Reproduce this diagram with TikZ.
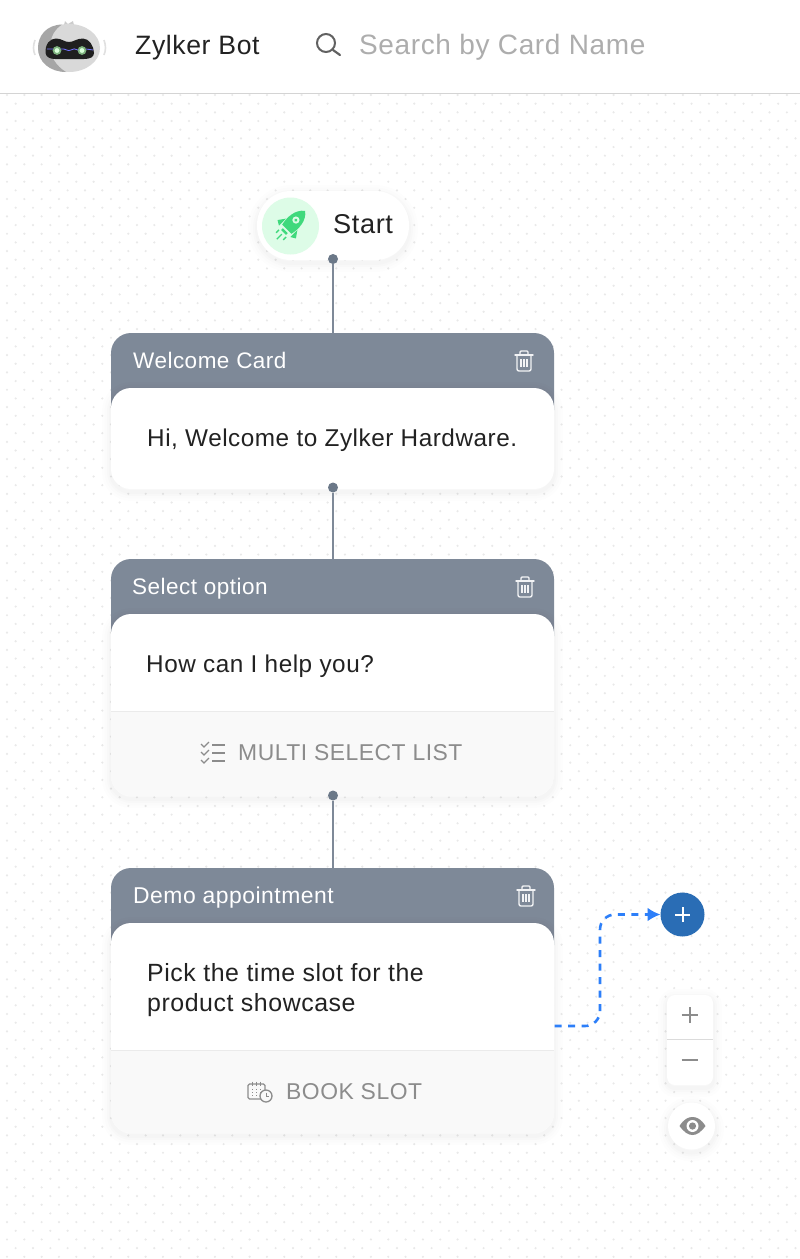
\documentclass[tikz,border=0pt]{standalone}
\usepackage{xcolor}
\usepackage{fontspec}
\setmainfont[LetterSpace=2.2]{Liberation Sans}
\usetikzlibrary{positioning,arrows.meta}

\definecolor{slate}{HTML}{7E8998}
\definecolor{slatedot}{HTML}{6B7888}
\definecolor{footfill}{HTML}{F9F9F9}
\definecolor{griddot}{HTML}{E9E9E9}
\definecolor{greytext}{HTML}{8C8C8C}
\definecolor{inktext}{HTML}{222222}
\definecolor{linkblue}{HTML}{2D7FF9}
\definecolor{addblue}{HTML}{2A6DB5}
\definecolor{rocketbg}{HTML}{DDFCE7}
\definecolor{rocketgreen}{HTML}{3FD97C}

\newcommand{\textsz}[1]{\fontsize{#1}{30}\selectfont}

\tikzset{
  softshadow/.style = {
    preaction = {draw = black, draw opacity = .007, line width = 18pt, transform canvas = {yshift = -3pt}},
    preaction = {draw = black, draw opacity = .009, line width = 13pt, transform canvas = {yshift = -3pt}},
    preaction = {draw = black, draw opacity = .011, line width = 8pt, transform canvas = {yshift = -3pt}},
    preaction = {draw = black, draw opacity = .013, line width = 4pt, transform canvas = {yshift = -3pt}},
  },
  cardhead/.style = {fill = slate, rounded corners = 20pt, minimum width = 443pt, minimum height = 97pt, inner sep = 0pt, outer sep = 0pt},
  cardbody/.style = {fill = white, softshadow, rounded corners = 20pt, minimum width = 443pt, inner sep = 0pt, outer sep = 0pt},
  headlabel/.style = {anchor = base west, inner sep = 0pt, text = white, font = \textsz{22.5}},
  bodylabel/.style = {anchor = base west, inner sep = 0pt, text = inktext, align = left, font = \textsz{24.3}},
  footlabel/.style = {anchor = base west, inner sep = 0pt, text = greytext, font = \textsz{22.9}},
  flowdot/.style = {circle, fill = slatedot, minimum size = 10pt, inner sep = 0pt, outer sep = 0pt},
  flowline/.style = {draw = slate, line width = 1.6pt},
  flowlink/.style = {draw = linkblue, line width = 2.6pt, dash pattern = on 7pt off 6.5pt, rounded corners = 15pt, -{Latex[length = 13pt, width = 14pt]}},
  footrule/.style = {draw = black!8, line width = .8pt},
  iconline/.style = {draw = greytext, line width = 1.3pt},
  pics/trash/.style = {code = {
    \draw[white!90!slate, line width = 1.4pt, rounded corners = 2pt] (-7,-6) -- (-7,10) -- (7,10) -- (7,-6);
    \draw[white!90!slate, line width = 1.4pt, line cap = round] (-9,-6) -- (9,-6);
    \draw[white!90!slate, line width = 1.4pt, rounded corners = 1pt] (-4,-6) -- (-4,-10) -- (4,-10) -- (4,-6);
    \foreach \tx in {-3,0,3} \draw[white!90!slate, line width = 1.1pt] (\tx,-2) -- (\tx,6);
  }},
}

\begin{document}
\begin{tikzpicture}[x = 1pt, y = -1pt]
  \useasboundingbox (0,0) rectangle (800,1259);
  \fill[white] (0,0) rectangle (800,1259);

  % background dots
  \foreach \row in {0,...,134} {
    \pgfmathsetmacro{\rowy}{95 + 8.67*\row}
    \pgfmathsetmacro{\rowx}{7 + 8.67*mod(\row,2)}
    \foreach \col in {0,...,46}
      \fill[griddot] ({\rowx + 17.33*\col},\rowy) circle (1.2pt);
  }

  % top bar
  \fill[white] (0,0) rectangle (800,93);
  \draw[black!17, line width = 1pt] (0,93) -- (800,93);

  % bot logo
  \draw[black!12, line width = 1.6pt] (35,40) .. controls (33,46) and (33,50) .. (35,55);
  \draw[black!12, line width = 1.6pt] (104,40) .. controls (106,46) and (106,50) .. (104,55);
  \fill[black!20] (64,25) -- (65,21) -- (68,24) -- (73,21) -- (74,25) -- cycle;
  \fill[black!15] (69,48) ellipse (31pt and 24pt);
  \fill[black!35] (62,24.5) .. controls (46,25) and (38,36) .. (38,48) .. controls (38,62) and (50,72) .. (66,72)
    .. controls (56,66) and (50,56) .. (50,47) .. controls (50,37) and (55,29) .. (62,24.5);
  \fill[black!88] (45.5,53) .. controls (45,44) and (50,38.5) .. (56,38.5) .. controls (62,38.5) and (64,42) .. (69,42)
    .. controls (74,42) and (76,38.5) .. (83,38.5) .. controls (89,38.5) and (94,46) .. (94,53)
    .. controls (94,57) and (90,59) .. (84,59) -- (55,59) .. controls (50,59) and (46,57) .. (45.5,53);
  \fill[green!30!white!70!black] (57,50.5) circle (4.4pt) (82,50.5) circle (4.4pt);
  \fill[green!15!white] (57,50.5) circle (2.4pt) (82,50.5) circle (2.4pt);
  \draw[blue!55!white, line width = .8pt] (47,49) -- (53,49) (61,49) .. controls (65,48) and (68,52) .. (71,50) .. controls (73,48) and (75,49) .. (78,50) (86,49) -- (93,50);

  \node[anchor = base west, inner sep = 0pt, text = inktext, font = \textsz{26.6}] (bot-name) at (135,54) {Zylker Bot};

  % search
  \draw[black!62, line width = 2pt] (326,43) circle (9pt);
  \draw[black!62, line width = 2.2pt, line cap = round] (333,50) -- (340,55);
  \node[anchor = base west, inner sep = 0pt, text = black!32, font = \textsz{28}] (search-hint) at (359,54) {Search by Card Name};

  % start pill
  \node[fill = white, softshadow, rounded corners = 34pt, minimum width = 152pt, minimum height = 69pt, inner sep = 0pt, outer sep = 0pt] (start) at (333,225.5) {};
  \node[circle, fill = rocketbg, minimum size = 57pt, inner sep = 0pt] (rocket-bg) at (290.5,226) {};
  \begin{scope}[shift = {(291,225)}, rotate = -45]
    \fill[rocketgreen] (0,-20) .. controls (8,-14) and (8.5,-3) .. (6.5,6) -- (-6.5,6) .. controls (-8.5,-3) and (-8,-14) .. (0,-20);
    \fill[rocketbg] (0,-7) circle (3.6pt);
    \fill[rocketgreen] (0,-7) circle (1.8pt);
    \fill[rocketgreen] (-8,-1) -- (-13,6) -- (-8,9) -- cycle (8,-1) -- (13,6) -- (8,9) -- cycle;
    \fill[rocketgreen] (-3.5,8) rectangle (3.5,10.5);
    \draw[rocketgreen, line width = 1.4pt] (-5,12) -- (-5,16) (0,13) -- (0,20) (5,12) -- (5,16);
  \end{scope}
  \node[anchor = base west, inner sep = 0pt, text = inktext, font = \textsz{27.2}] (start-label) at (333,233.5) {Start};

  % welcome card
  \node[cardhead] (welcome-head) at (332.5,381.5) {};
  \node[cardbody, minimum height = 101pt, below = -42pt of welcome-head] (welcome-body) {};
  \node[headlabel] (welcome-title) at (133,368.5) {Welcome Card};
  \pic at (524,361) {trash};
  \node[bodylabel] (welcome-text) at (147,446.5) {Hi, Welcome to Zylker Hardware.};

  % select card
  \node[cardhead] (select-head) at (332.5,607.5) {};
  \node[cardbody, minimum height = 182pt, below = -42pt of select-head] (select-body) {};
  \coordinate (select-rule) at (111,711);
  \fill[footfill] (select-rule) -- (select-rule -| select-body.east) [rounded corners = 20pt] -- (select-body.south east) -- (select-body.south west) [sharp corners] -- cycle;
  \draw[footrule] (select-rule) -- (select-rule -| select-body.east);
  \node[headlabel] (select-title) at (132,594.5) {Select option};
  \pic at (525,587) {trash};
  \node[bodylabel] (select-text) at (146,672.5) {How can I help you?};
  \foreach \iy in {745,753,761} {
    \draw[iconline] (201,\iy-1) -- (204,\iy+2) -- (209,\iy-3);
    \draw[iconline] (212,\iy) -- (225,\iy);
  }
  \node[footlabel] (select-foot) at (238,760.5) {MULTI SELECT LIST};

  % demo card
  \node[cardhead] (demo-head) at (332.5,916.5) {};
  \node[cardbody, minimum height = 210pt, below = -42pt of demo-head] (demo-body) {};
  \coordinate (demo-rule) at (111,1050);
  \fill[footfill] (demo-rule) -- (demo-rule -| demo-body.east) [rounded corners = 20pt] -- (demo-body.south east) -- (demo-body.south west) [sharp corners] -- cycle;
  \draw[footrule] (demo-rule) -- (demo-rule -| demo-body.east);
  \node[headlabel, font = \textsz{22.9}] (demo-title) at (133,903.5) {Demo appointment};
  \pic at (526,896) {trash};
  \node[bodylabel, font = \textsz{24.9}] (demo-text) at (147,1011.5) {Pick the time slot for the\\product showcase};
  \draw[iconline, rounded corners = 1.5pt] (265,1099) -- (248,1099) -- (248,1084) -- (265,1084) -- (265,1091);
  \foreach \ix in {252,256,260} {
    \draw[iconline, line width = 1pt] (\ix,1081.5) -- (\ix,1086);
    \draw[iconline, line width = 1pt, dotted] (\ix,1089) -- (\ix,1097);
  }
  \draw[iconline, fill = footfill] (266,1096) circle (6pt);
  \draw[iconline, line width = 1pt] (266,1092.5) -- (266,1096) -- (269,1096);
  \node[footlabel] (demo-foot) at (286,1099.5) {BOOK SLOT};

  % connectors
  \node[flowdot] (start-dot) at (333,259) {};
  \node[flowdot] (welcome-dot) at (333,487.5) {};
  \node[flowdot] (select-dot) at (333,795.5) {};
  \draw[flowline] (start-dot) -- (start-dot |- welcome-head.north);
  \draw[flowline] (welcome-dot) -- (welcome-dot |- select-head.north);
  \draw[flowline] (select-dot) -- (select-dot |- demo-head.north);

  % add button
  \node[circle, fill = addblue, minimum size = 44pt, inner sep = 0pt, outer sep = 0pt] (add-card) at (682.5,914.5) {};
  \draw[white, line width = 2pt] ([xshift = -7.5pt]add-card.center) -- ([xshift = 7.5pt]add-card.center);
  \draw[white, line width = 2pt] ([yshift = -7.5pt]add-card.center) -- ([yshift = 7.5pt]add-card.center);
  \coordinate (demo-out) at (554.5,1026);
  \coordinate (link-bend) at (600,970);
  \draw[flowlink] (demo-out) -| (link-bend) |- (add-card);

  % zoom controls
  \node[fill = white, softshadow, rounded corners = 8pt, minimum width = 46pt, minimum height = 90pt, inner sep = 0pt, outer sep = 0pt] (zoom-box) at (690,1040) {};
  \draw[black!14, line width = .8pt] ([yshift = 1pt]zoom-box.west) -- ([yshift = 1pt]zoom-box.east);
  \node[inner sep = 0pt] (zoom-in) at (689.5,1015) {};
  \node[inner sep = 0pt] (zoom-out) at (689.5,1060) {};
  \draw[greytext, line width = 2pt] ([xshift = -8pt]zoom-in.center) -- ([xshift = 8pt]zoom-in.center);
  \draw[greytext, line width = 2pt] ([yshift = -8pt]zoom-in.center) -- ([yshift = 8pt]zoom-in.center);
  \draw[greytext, line width = 2pt] ([xshift = -8pt]zoom-out.center) -- ([xshift = 8pt]zoom-out.center);

  % preview button
  \node[circle, fill = white, softshadow, minimum size = 47pt, inner sep = 0pt, outer sep = 0pt] (preview) at (691.5,1126) {};
  \fill[greytext] (679.5,1126) .. controls (684,1119) and (688,1117) .. (692.5,1117) .. controls (697,1117) and (701,1119) .. (705.5,1126)
    .. controls (701,1132) and (697,1135) .. (692.5,1135) .. controls (688,1135) and (684,1132) .. (679.5,1126);
  \fill[white] (692.5,1126) circle (6pt);
  \fill[greytext] (692.5,1126) circle (3.6pt);
\end{tikzpicture}
\end{document}
